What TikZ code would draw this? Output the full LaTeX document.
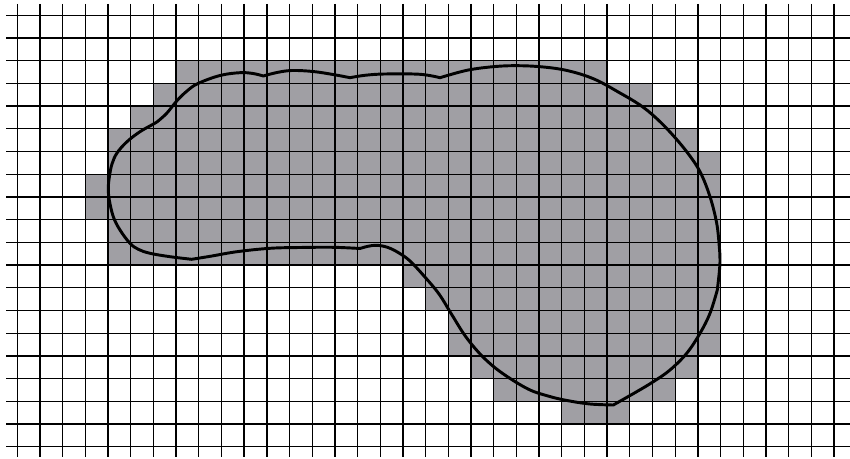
\documentclass[tikz,border=0pt]{standalone}
\definecolor{cellgray}{RGB}{160,159,164}
\tikzset{
  gridline/.style={black,line width=1pt},
  outline/.style={black,line width=2.2pt,line join=round,line cap=round},
}
\begin{document}
\begin{tikzpicture}[x=0.75pt,y=-0.75pt]
\useasboundingbox (0,0) rectangle (850,459);
% gray cells
\foreach \r/\a/\b in {2/7/25,3/6/27,4/5/28,5/4/29,6/4/30,7/3/30,8/3/30,9/4/30,10/4/30,11/17/30,12/18/30,13/19/30,14/19/30,15/20/29,16/21/28,17/24/26}
  \fill[cellgray] ({17.3+22.686*\a},{15.3+22.705*\r}) rectangle ({17.3+22.686*(\b+1)},{15.3+22.705*(\r+1)});
% grid
\foreach \i in {0,...,36}
  \draw[gridline] ({17.3+22.686*\i},4) -- ({17.3+22.686*\i},457);
\foreach \j in {0,...,19}
  \draw[gridline] (6,{15.3+22.705*\j}) -- (850,{15.3+22.705*\j});
% outline
\draw[outline]
  plot[smooth,tension=0.6] coordinates {(157.3,121.7) (166.7,113.3) (176.7,101) (187,91) (198,83.5) (220,75.5) (240,72.7) (253,73.5) (263.3,76)}
  -- plot[smooth,tension=0.6] coordinates {(263.3,76) (277,72.5) (292,70.5) (313,71.5) (333,74.5) (350,77.7)}
  -- plot[smooth,tension=0.6] coordinates {(350,77.7) (365,75.3) (385,74) (420,74.3) (440,77.7)}
  -- plot[smooth,tension=0.6] coordinates {(440,77.7) (466,70.5) (490,67) (513,65.7) (540,66.7) (567,70.5) (594,79) (620,93) (640,105) (655,117) (670,132) (686.7,151.7) (700,171.7) (710,196.7) (716.7,223.3) (719.3,246.7) (720,260) (719.3,272) (717.3,290)}
  -- plot[smooth,tension=0.6] coordinates {(717.3,290) (710,313.3) (700,333.3) (686.7,353.3) (670,370) (653.3,381.7) (636.7,391.7) (613.3,405)}
  -- plot[smooth,tension=0.6] coordinates {(613.3,405) (590,404) (567,400.5) (548,396) (528,389) (502,373) (483,357) (466,337) (452,315) (439,294) (424,276) (410,261) (399,253) (388,247.5) (377,245.3) (368,246.3) (360,248.5)}
  -- plot[smooth,tension=0.6] coordinates {(360,248.5) (333,247.3) (300,247.5) (270,248.3) (237,251.7) (212,256) (191.7,259.3)}
  -- plot[smooth,tension=0.6] coordinates {(191.7,259.3) (170,256.7) (150,253.3) (138.3,249.3) (130,243.3) (120,230) (113.3,216.7) (109.3,200) (108.3,188) (109.5,176) (112,164) (117,153) (127,141.7) (140,131.7) (153,124.3) (157.3,121.7)}
  -- cycle;
\end{tikzpicture}
\end{document}
